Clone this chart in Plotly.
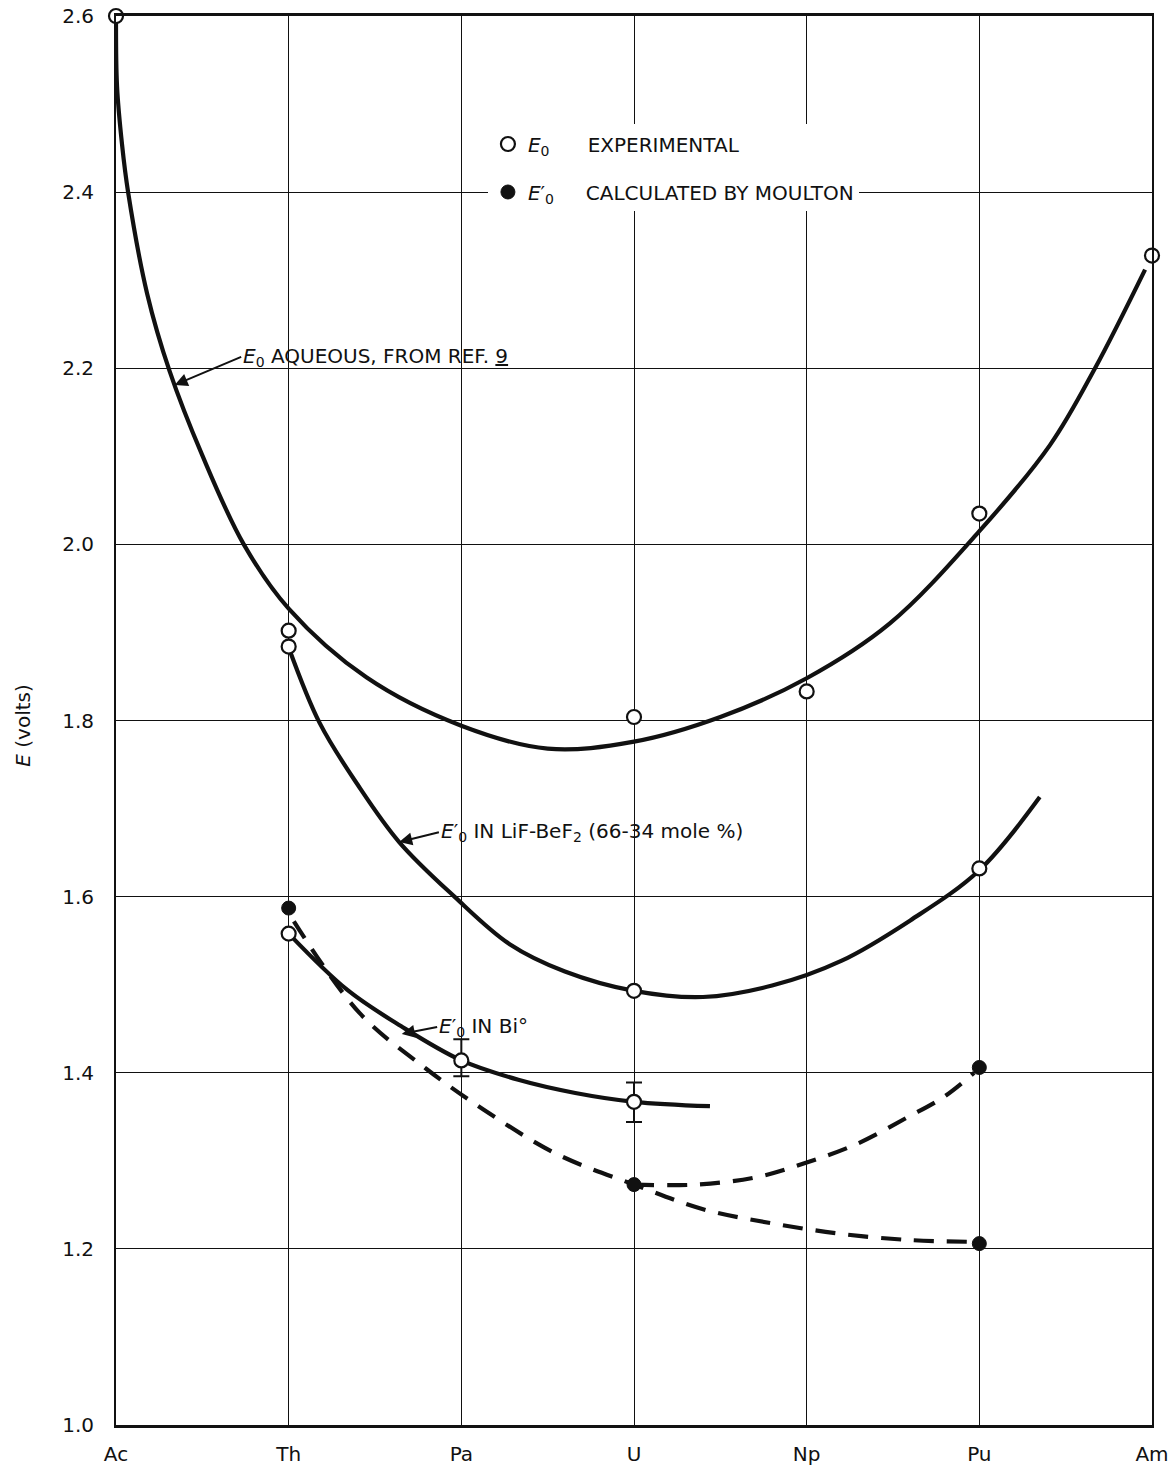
import plotly.graph_objects as go

# ---------------- data ----------------
elements = ["Ac", "Th", "Pa", "U", "Np", "Pu", "Am"]
elem_pos = [0, 1, 2, 3, 4, 5, 6]
y_ticks = [1.0, 1.2, 1.4, 1.6, 1.8, 2.0, 2.2, 2.4, 2.6]
y_tick_text = ["1.0", "1.2", "1.4", "1.6", "1.8", "2.0", "2.2", "2.4", "2.6"]

# E0 aqueous curve (from Ref. 9)
aq_x = [0, 0.006, 0.035, 0.07, 0.18, 0.31, 0.50, 0.74, 1.0, 1.45, 2.0, 2.5, 3.0, 3.5, 4.0, 4.48, 5.0, 5.41, 5.67, 5.96]
aq_y = [2.60, 2.52, 2.454, 2.40, 2.285, 2.197, 2.101, 2.00, 1.927, 1.849, 1.794, 1.768, 1.776, 1.804, 1.848, 1.91, 2.015, 2.113, 2.20, 2.312]

# E0' in LiF-BeF2 (66-34 mole %)
lif_x = [1.0, 1.18, 1.4, 1.64, 1.96, 2.28, 2.6, 3.0, 3.4, 3.8, 4.2, 4.6, 5.0, 5.35]
lif_y = [1.883, 1.797, 1.727, 1.662, 1.600, 1.546, 1.515, 1.493, 1.486, 1.499, 1.527, 1.573, 1.630, 1.713]

# E0' in Bi
bi_x = [1.0, 1.34, 1.65, 2.0, 2.33, 2.66, 3.0, 3.44]
bi_y = [1.558, 1.494, 1.453, 1.414, 1.392, 1.377, 1.367, 1.362]

# Calculated (dashed) curves
d1_x = [1.03, 1.41, 1.8, 2.13, 2.55, 3.0, 3.4, 3.8, 4.2, 4.6, 4.95]
d1_y = [1.572, 1.468, 1.404, 1.358, 1.308, 1.273, 1.245, 1.229, 1.217, 1.210, 1.208]
d2_x = [3.0, 3.36, 3.7, 4.0, 4.3, 4.58, 4.79, 4.97]
d2_y = [1.273, 1.273, 1.281, 1.298, 1.320, 1.349, 1.372, 1.400]

# Experimental points (open circles)
exp_x = [0, 1, 1, 3, 4, 5, 6, 3, 5, 1, 2, 3]
exp_y = [2.60, 1.902, 1.884, 1.804, 1.833, 2.035, 2.328, 1.493, 1.632, 1.558, 1.414, 1.367]

# Error bars on Bi points
err_x = [2, 3]
err_y = [1.414, 1.367]
err_plus = [0.024, 0.022]
err_minus = [0.018, 0.023]

# Calculated by Moulton (filled circles)
calc_x = [1, 3, 5, 5]
calc_y = [1.587, 1.273, 1.406, 1.206]

FONT = "DejaVu Sans"
INK = "#111111"
NB = "\u00a0"

fig = go.Figure()

curve_style = dict(color=INK, width=4.2, shape="spline", smoothing=1.0)
for cx, cy in [(aq_x, aq_y), (lif_x, lif_y), (bi_x, bi_y)]:
    fig.add_trace(go.Scatter(x=cx, y=cy, mode="lines", line=curve_style,
                             showlegend=False, hoverinfo="skip", cliponaxis=False))
for cx, cy in [(d1_x, d1_y), (d2_x, d2_y)]:
    fig.add_trace(go.Scatter(x=cx, y=cy, mode="lines",
                             line=dict(color=INK, width=4.2, dash="20px,13px", shape="spline", smoothing=1.0),
                             showlegend=False, hoverinfo="skip", cliponaxis=False))

fig.add_trace(go.Scatter(
    x=err_x, y=err_y, mode="markers", marker=dict(size=2, color=INK),
    error_y=dict(type="data", symmetric=False, array=err_plus, arrayminus=err_minus,
                 color=INK, thickness=2, width=8),
    showlegend=False, hoverinfo="skip", cliponaxis=False))

fig.add_trace(go.Scatter(
    x=exp_x, y=exp_y, mode="markers",
    marker=dict(symbol="circle", size=14, color="white", line=dict(color=INK, width=2.2)),
    name="<i>E</i><sub>0</sub>" + NB * 6 + "EXPERIMENTAL", legendgroup="a", cliponaxis=False))
fig.add_trace(go.Scatter(
    x=calc_x, y=calc_y, mode="markers",
    marker=dict(symbol="circle", size=14, color=INK, line=dict(color=INK, width=1)),
    name="<i>E</i>′<sub>0</sub>" + NB * 5 + "CALCULATED BY MOULTON", legendgroup="b", cliponaxis=False))

# ---------------- labels with arrows ----------------
ann = []
def label(text, x_tail, y_tail, x_tip, y_tip):
    ann.append(dict(text=text, x=x_tip, y=y_tip, ax=x_tail, ay=y_tail, xref="x", yref="y",
                    axref="x", ayref="y", xanchor="left", yanchor="middle",
                    showarrow=True, arrowhead=2, arrowsize=1.3, arrowwidth=2,
                    arrowcolor=INK, standoff=0, startstandoff=0,
                    font=dict(family=FONT, size=20, color=INK)))

label("<i>E</i><sub>0</sub> AQUEOUS, FROM REF. <u>9</u>", 0.725, 2.213, 0.34, 2.181)
label("<i>E</i>′<sub>0</sub> IN LiF-BeF<sub>2</sub> (66-34 mole %)", 1.87, 1.673, 1.64, 1.662)
label("<i>E</i>′<sub>0</sub> IN Bi°", 1.86, 1.452, 1.655, 1.444)

ann.append(dict(text="<i>E</i> (volts)", xref="paper", yref="paper", x=-0.0898, y=0.497,
                textangle=-90, showarrow=False, xanchor="center", yanchor="middle",
                font=dict(family=FONT, size=20, color=INK)))

fig.update_layout(
    width=1173, height=1470,
    margin=dict(l=116, r=21, t=16, b=45, autoexpand=False),
    paper_bgcolor="white", plot_bgcolor="white",
    font=dict(family=FONT, size=20, color=INK),
    showlegend=True,
    legend=dict(x=0.359, y=0.923, xanchor="left", yanchor="top", bgcolor="white",
                borderwidth=0, font=dict(family=FONT, size=20, color=INK),
                traceorder="grouped", tracegroupgap=19, itemwidth=30),
    annotations=ann,
)
fig.update_xaxes(range=[0, 6], tickvals=elem_pos, ticktext=elements, showgrid=True,
                 gridcolor=INK, gridwidth=1.3, zeroline=False, showline=True, linecolor=INK,
                 linewidth=2.5, mirror=True, ticks="outside", ticklen=0, ticklabelstandoff=9,
                 automargin=False, tickfont=dict(family=FONT, size=20, color=INK))
fig.update_yaxes(range=[1.0, 2.6], tickvals=y_ticks, ticktext=y_tick_text, showgrid=True,
                 gridcolor=INK, gridwidth=1.3, zeroline=False, showline=True, linecolor=INK,
                 linewidth=1.8, mirror=True, ticks="outside", ticklen=0, ticklabelstandoff=16,
                 automargin=False, tickfont=dict(family=FONT, size=20, color=INK))

fig.write_html("out.html")
